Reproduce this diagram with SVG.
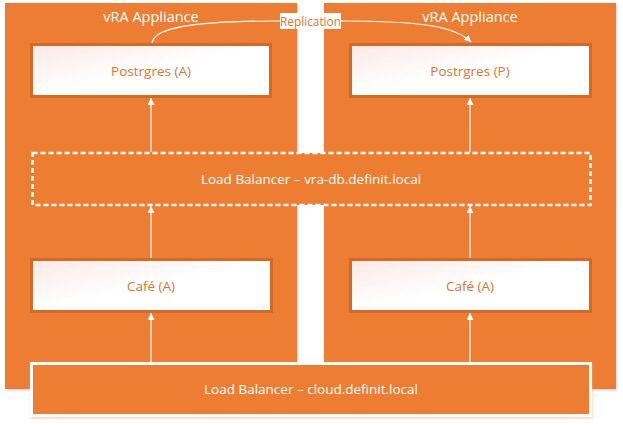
<svg xmlns="http://www.w3.org/2000/svg" width="623" height="425" viewBox="0 0 623 425">
<defs>
<linearGradient id="wg" x1="0" y1="0" x2="1" y2="1">
<stop offset="0" stop-color="#FBE9E6"/>
<stop offset="0.5" stop-color="#FFFFFF"/>
<stop offset="1" stop-color="#FFFFFF"/>
</linearGradient>
<filter id="sh" x="-5%" y="-5%" width="110%" height="110%">
<feDropShadow dx="1" dy="1.5" stdDeviation="1.2" flood-color="#A0A0A0" flood-opacity="0.5"/>
</filter>
<filter id="sh2" x="-5%" y="-10%" width="110%" height="125%">
<feDropShadow dx="0.5" dy="1.5" stdDeviation="1.2" flood-color="#F4B183" flood-opacity="0.6"/>
</filter>
<marker id="ah" viewBox="0 0 8 8" refX="8" refY="4" markerWidth="7" markerHeight="7" markerUnits="userSpaceOnUse" orient="auto">
<path d="M0,0 L8,4 L0,8 Z" fill="#FFFFFF"/>
</marker>
</defs>
<style>
.app{fill:#ED7D31;}
.box{fill:url(#wg);stroke:#D46A28;stroke-width:3;}
.lbl{font-family:"Open Sans","Noto Sans",sans-serif;font-size:13.5px;fill:#E0752E;text-anchor:middle;}
.rep{font-family:"Open Sans","Noto Sans",sans-serif;font-size:11.8px;fill:#E0752E;text-anchor:middle;}
.wt{font-family:"Open Sans","Noto Sans",sans-serif;fill:#FFFFFF;text-anchor:middle;}
.con{stroke:#FFFFFF;stroke-width:1.2;fill:none;}
</style>
<g id="appliance-left">
<rect class="app" x="5" y="3" width="292" height="386" filter="url(#sh)"/>
<text class="wt" x="151" y="22" font-size="14.5">vRA Appliance</text>
</g>
<g id="appliance-right">
<rect class="app" x="324" y="3" width="292" height="386" filter="url(#sh)"/>
<text class="wt" x="470" y="22" font-size="14.5">vRA Appliance</text>
</g>
<g id="postgres-a">
<rect class="box" x="31.5" y="44.5" width="239" height="52"/>
<text class="lbl" x="151" y="76">Postrgres (A)</text>
</g>
<g id="postgres-p">
<rect class="box" x="350.5" y="44.5" width="240" height="52"/>
<text class="lbl" x="470" y="76">Postrgres (P)</text>
</g>
<g id="lb-db">
<rect x="32.5" y="153" width="558" height="52" fill="#ED7D31" stroke="#FFFFFF" stroke-width="2.5" stroke-dasharray="5,3"/>
<text class="wt" x="311" y="184" font-size="13.5">Load Balancer – vra-db.definit.local</text>
</g>
<g id="cafe-a-left">
<rect class="box" x="31.5" y="259.5" width="240" height="52"/>
<text class="lbl" x="151" y="291">Café (A)</text>
</g>
<g id="cafe-a-right">
<rect class="box" x="350.5" y="259.5" width="240" height="52"/>
<text class="lbl" x="470" y="291">Café (A)</text>
</g>
<g id="lb-cloud">
<rect x="31.5" y="363.5" width="559" height="52" fill="#ED7D31" stroke="#FFFFFF" stroke-width="3" filter="url(#sh2)"/>
<text class="wt" x="311" y="394" font-size="13.5">Load Balancer – cloud.definit.local</text>
</g>
<g id="connectors">
<line class="con" x1="151" y1="152" x2="151" y2="98" marker-end="url(#ah)"/>
<line class="con" x1="470" y1="152" x2="470" y2="98" marker-end="url(#ah)"/>
<line class="con" x1="151" y1="258" x2="151" y2="206" marker-end="url(#ah)"/>
<line class="con" x1="470" y1="258" x2="470" y2="206" marker-end="url(#ah)"/>
<line class="con" x1="151" y1="362" x2="151" y2="313" marker-end="url(#ah)"/>
<line class="con" x1="470" y1="362" x2="470" y2="313" marker-end="url(#ah)"/>
<path class="con" d="M152,43 C154,28 190,21 280,21"/>
<path class="con" d="M341,21 C420,21 455,26 471,42" marker-end="url(#ah)"/>
<rect x="280" y="13" width="61" height="16" fill="#FFFFFF"/>
<text class="rep" x="310.5" y="25.5">Replication</text>
</g>
</svg>
